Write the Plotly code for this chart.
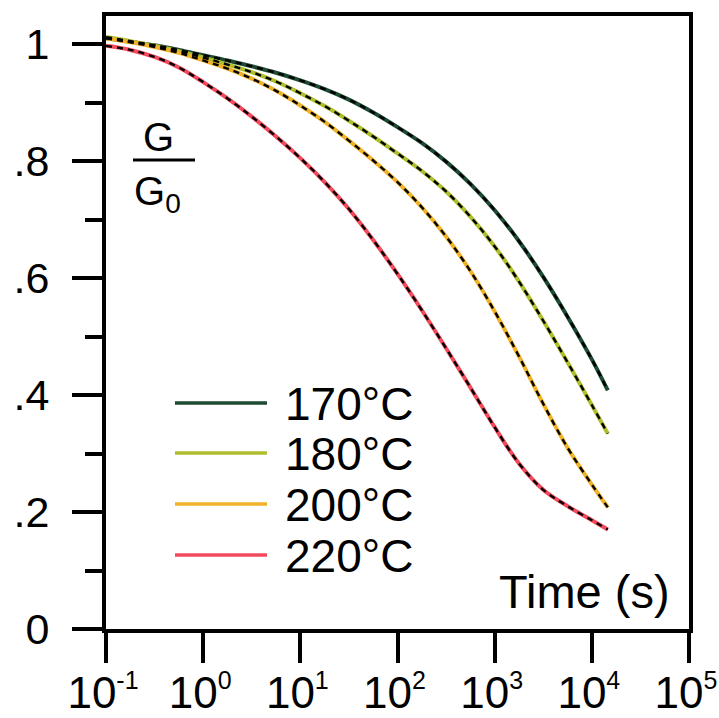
import plotly.graph_objects as go

# Relaxation time (s), sampled every quarter decade up to the last measurement
time_s = [0.1, 0.178, 0.316, 0.562, 1.0, 1.78, 3.16, 5.62, 10.0, 17.8, 31.6, 56.2,
          100.0, 178.0, 316.0, 562.0, 1000.0, 1780.0, 3160.0, 5620.0, 10000.0, 14600.0]

# Normalised modulus G/G0 for each temperature
g_170 = [1.010, 1.004, 0.998, 0.990, 0.981, 0.972, 0.962, 0.951, 0.938, 0.923, 0.905,
         0.883, 0.858, 0.831, 0.799, 0.761, 0.716, 0.663, 0.602, 0.534, 0.461, 0.408]
g_180 = [1.012, 1.005, 0.997, 0.988, 0.977, 0.965, 0.952, 0.936, 0.916, 0.894, 0.869,
         0.842, 0.813, 0.783, 0.748, 0.705, 0.654, 0.594, 0.527, 0.456, 0.383, 0.334]
g_200 = [1.010, 1.003, 0.995, 0.985, 0.972, 0.958, 0.941, 0.920, 0.895, 0.867, 0.835,
         0.801, 0.764, 0.721, 0.671, 0.612, 0.543, 0.466, 0.385, 0.310, 0.247, 0.208]
g_220 = [0.997, 0.990, 0.978, 0.960, 0.935, 0.907, 0.876, 0.842, 0.805, 0.764, 0.718,
         0.665, 0.607, 0.545, 0.480, 0.413, 0.345, 0.283, 0.238, 0.210, 0.186, 0.170]

series_names = ["170°C", "180°C", "200°C", "220°C"]
series_values = [g_170, g_180, g_200, g_220]
series_colors = ["#1d4a32", "#aebe2c", "#f0b226", "#f24a5c"]

x_tickvals = [0.1, 1, 10, 100, 1000, 10000, 100000]
x_exponents = ["-1", "0", "1", "2", "3", "4", "5"]
x_ticktext = ["10<sup><span style='font-size:25px'>%s</span></sup>" % e for e in x_exponents]
y_tickvals = [0, 0.2, 0.4, 0.6, 0.8, 1.0]
y_ticktext = ["0", ".2", ".4", ".6", ".8", "1"]
y_minor = [0.1, 0.3, 0.5, 0.7, 0.9]

FONT = "Liberation Sans, Arial, sans-serif"
W, H = 719, 718
ML, MR, MT, MB = 106, 30, 16, 89
PW, PH = W - ML - MR, H - MT - MB


def px_x(px):
    return (px - ML) / PW


def px_y(py):
    return (H - MB - py) / PH


fig = go.Figure()

# Measured curves (coloured) with their fits (black dashed) on top
for name, vals, col in zip(series_names, series_values, series_colors):
    fig.add_trace(go.Scatter(x=time_s, y=vals, mode="lines", name=name,
                             line=dict(color=col, width=4, shape="spline"),
                             showlegend=False))
for name, vals in zip(series_names, series_values):
    fig.add_trace(go.Scatter(x=time_s, y=vals, mode="lines", name=name + " fit",
                             line=dict(color="black", width=2.4, dash="6px,5px", shape="spline"),
                             showlegend=False))

axis_common = dict(
    showgrid=False, zeroline=False, automargin=False,
    showline=True, linecolor="black", linewidth=4, mirror=True,
    ticks="outside", ticklen=30, tickwidth=3.5, tickcolor="black",
)

fig.update_xaxes(type="log", range=[-1, 5], tickmode="array",
                 tickvals=x_tickvals, ticktext=x_ticktext,
                 ticklabelstandoff=-8, ticklabelshift=-3, ticklabeloverflow="allow",
                 tickfont=dict(family=FONT, size=44, color="black"),
                 **axis_common)
fig.update_yaxes(range=[0, 1.048], tickmode="array",
                 tickvals=y_tickvals, ticktext=y_ticktext,
                 ticklabelstandoff=14,
                 tickfont=dict(family=FONT, size=43, color="black"),
                 minor=dict(tickmode="array", tickvals=y_minor, ticks="outside",
                            ticklen=17, tickwidth=3.5, tickcolor="black", showgrid=False),
                 **axis_common)

shapes = []
annotations = []

# Legend: long line samples with labels
legend_rows = [403, 453, 504, 555]
for row, name, col in zip(legend_rows, series_names, series_colors):
    shapes.append(dict(type="line", xref="paper", yref="paper",
                       x0=px_x(175), x1=px_x(267), y0=px_y(row), y1=px_y(row),
                       line=dict(color=col, width=3.5)))
    annotations.append(dict(xref="paper", yref="paper", x=px_x(283), y=px_y(row + 1),
                            text=name, showarrow=False, xanchor="left", yanchor="middle",
                            font=dict(family=FONT, size=46, color="black")))

# G / G0 axis label as a stacked fraction
shapes.append(dict(type="line", xref="paper", yref="paper",
                   x0=px_x(133), x1=px_x(195), y0=px_y(160), y1=px_y(160),
                   line=dict(color="black", width=3)))
annotations.append(dict(xref="paper", yref="paper", x=px_x(158), y=px_y(137),
                        text="G", showarrow=False, xanchor="center", yanchor="middle",
                        font=dict(family=FONT, size=40, color="black")))
annotations.append(dict(xref="paper", yref="paper", x=px_x(132), y=px_y(194),
                        text="G<sub>0</sub>", showarrow=False, xanchor="left", yanchor="middle",
                        font=dict(family=FONT, size=40, color="black")))

# Time axis title placed inside the frame
annotations.append(dict(xref="paper", yref="paper", x=px_x(672), y=px_y(591),
                        text="Time (s)", showarrow=False, xanchor="right", yanchor="middle",
                        font=dict(family=FONT, size=47, color="black")))

fig.update_layout(
    width=W, height=H,
    margin=dict(l=ML, r=MR, t=MT, b=MB, autoexpand=False),
    paper_bgcolor="white", plot_bgcolor="white",
    showlegend=False,
    shapes=shapes, annotations=annotations,
)

fig.write_html("out.html")
